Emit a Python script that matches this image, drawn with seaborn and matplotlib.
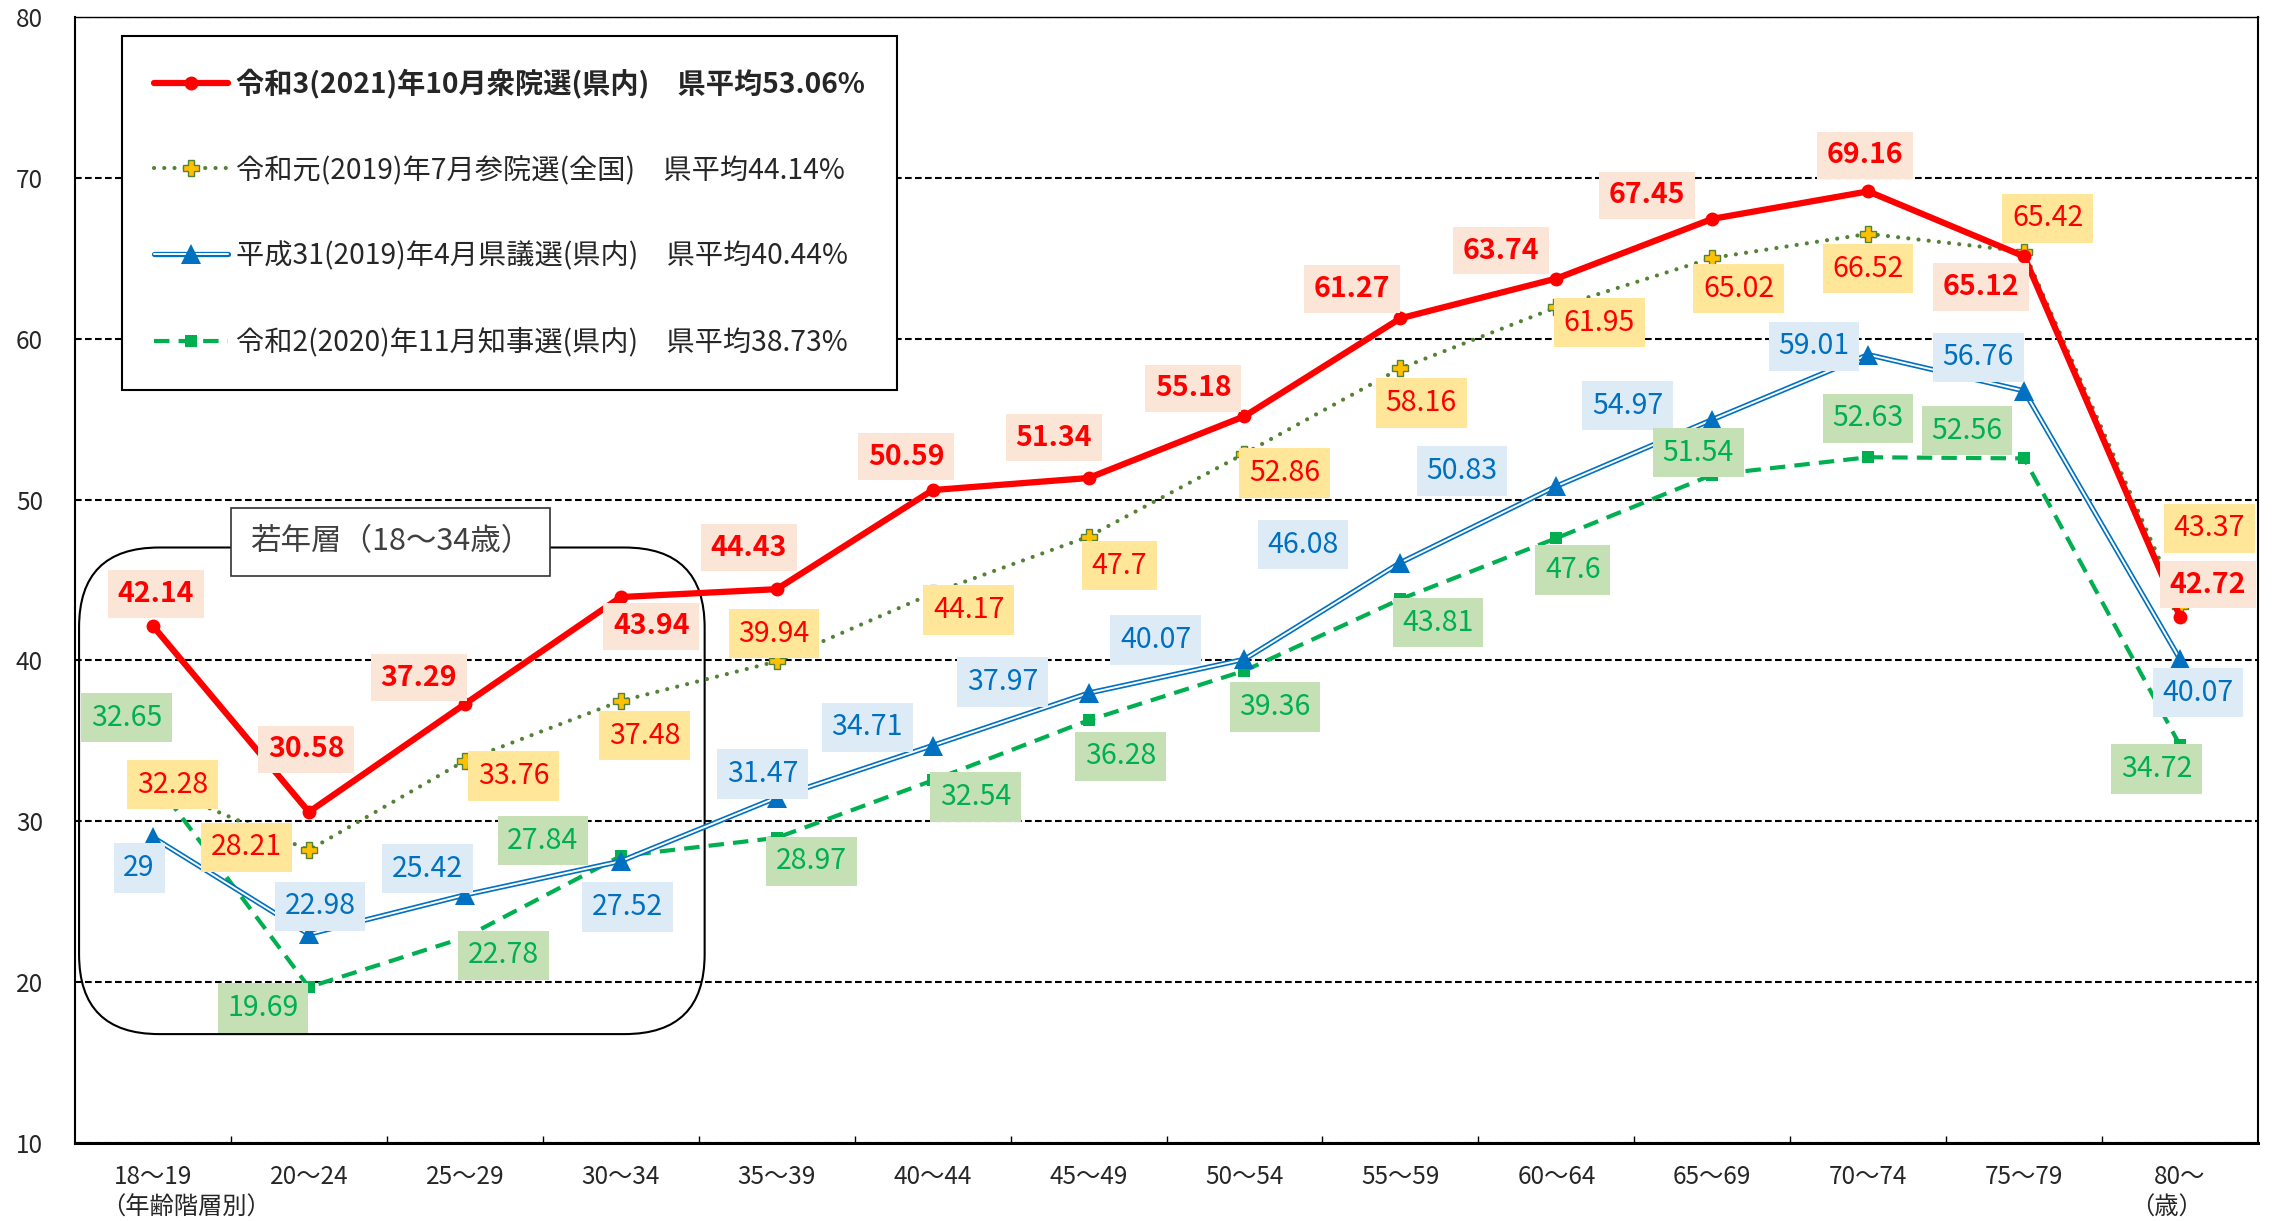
import numpy as np
import pandas as pd
import matplotlib
matplotlib.use("Agg")
import matplotlib.pyplot as plt
import matplotlib.transforms as mtransforms
import seaborn as sns
from matplotlib.lines import Line2D
from matplotlib.patches import FancyBboxPatch
from matplotlib.legend_handler import HandlerTuple

# ---------------- data ----------------
ages = ["18～19", "20～24", "25～29", "30～34", "35～39", "40～44", "45～49",
        "50～54", "55～59", "60～64", "65～69", "70～74", "75～79", "80～"]
shugiin_2021 = [42.14, 30.58, 37.29, 43.94, 44.43, 50.59, 51.34, 55.18, 61.27, 63.74, 67.45, 69.16, 65.12, 42.72]
sangiin_2019 = [32.28, 28.21, 33.76, 37.48, 39.94, 44.17, 47.7, 52.86, 58.16, 61.95, 65.02, 66.52, 65.42, 43.37]
kengi_2019 = [29, 22.98, 25.42, 27.52, 31.47, 34.71, 37.97, 40.07, 46.08, 50.83, 54.97, 59.01, 56.76, 40.07]
chiji_2020 = [32.65, 19.69, 22.78, 27.84, 28.97, 32.54, 36.28, 39.36, 43.81, 47.6, 51.54, 52.63, 52.56, 34.72]
series_labels = [
    "令和3(2021)年10月衆院選(県内)　県平均53.06%",
    "令和元(2019)年7月参院選(全国)　県平均44.14%",
    "平成31(2019)年4月県議選(県内)　県平均40.44%",
    "令和2(2020)年11月知事選(県内)　県平均38.73%",
]
yticks = [10, 20, 30, 40, 50, 60, 70, 80]

# ---------------- label offsets (points) ----------------
off_red = [(2, 23), (-2, 45), (-33, 19), (22, -21), (-20, 30), (-19, 24), (-25, 29),
           (-37, 20), (-35, 21), (-40, 20), (-47, 17), (-2, 26), (-31, -22), (20, 23)]
off_yel = [(14, 0), (-45, 2), (35, -11), (17, -25), (-2, 20), (26, -12), (22, -21),
           (29, -14), (15, -25), (31, -11), (19, -22), (0, -25), (17, 24), (21, 56)]
off_blu = [(-10, -22), (8, 20), (-27, 19), (5, -33), (-10, 17), (-47, 13), (-62, 8),
           (-64, 14), (-70, 13), (-68, 11), (-61, 10), (-39, 6), (-33, 24), (13, -24)]
off_grn = [(-19, 44), (-33, -15), (28, -13), (-56, 11), (25, -17), (31, -12), (23, -26),
           (22, -26), (27, -17), (12, -23), (-10, 16), (0, 28), (-41, 20), (-17, -17)]

RED = "#FF0000"
OLIVE = "#548235"
YELLOW = "#FFC000"
BLUE = "#0070C0"
GREEN = "#00B050"

sns.set_style("white")
plt.rcParams["font.family"] = ["Noto Sans CJK JP", "DejaVu Sans"]

df = pd.DataFrame({
    "pos": np.arange(len(ages)),
    "age": ages,
    "shugiin": shugiin_2021,
    "sangiin": sangiin_2019,
    "kengi": kengi_2019,
    "chiji": chiji_2020,
})

W, H = 2275, 1221
fig = plt.figure(figsize=(W / 100, H / 100), dpi=100)
L, R, T, B = 75, 2258, 17, 1143
ax = fig.add_axes([L / W, 1 - B / H, (R - L) / W, (B - T) / H])

# green dashed (知事選)
sns.lineplot(data=df, x="pos", y="chiji", ax=ax, color=GREEN, linewidth=3.0,
             linestyle=(0, (3.7, 2.2)), marker="s", markersize=8,
             markeredgecolor=GREEN, markeredgewidth=0, legend=False, zorder=2.0)
# blue double line (県議選)
sns.lineplot(data=df, x="pos", y="kengi", ax=ax, color=BLUE, linewidth=3.8,
             legend=False, zorder=2.1)
sns.lineplot(data=df, x="pos", y="kengi", ax=ax, color="white", linewidth=1.4,
             legend=False, zorder=2.2)
sns.lineplot(data=df, x="pos", y="kengi", ax=ax, color=BLUE, linestyle="none",
             marker="^", markersize=14, markeredgecolor=BLUE, markeredgewidth=0,
             legend=False, zorder=2.3)
# dotted (参院選)
sns.lineplot(data=df, x="pos", y="sangiin", ax=ax, color=OLIVE, linewidth=3.0,
             linestyle=(0, (0.01, 2.45)), dash_capstyle="round",
             marker="P", markersize=11, markerfacecolor=YELLOW,
             markeredgecolor=OLIVE, markeredgewidth=1.0, legend=False, zorder=2.4)
# red solid (衆院選)
sns.lineplot(data=df, x="pos", y="shugiin", ax=ax, color=RED, linewidth=4.5,
             marker="o", markersize=10, markeredgecolor=RED, markeredgewidth=0,
             legend=False, zorder=2.5)

# data labels
specs = [
    (df["shugiin"], off_red, RED, "#FBE5D6", "bold"),
    (df["sangiin"], off_yel, RED, "#FFE699", "normal"),
    (df["kengi"], off_blu, BLUE, "#DDEBF7", "normal"),
    (df["chiji"], off_grn, GREEN, "#C5E0B4", "normal"),
]
for vals, offs, tc, bg, fw in specs:
    for i, (v, (dx, dy)) in enumerate(zip(vals, offs)):
        ax.annotate(f"{v:g}", xy=(i, v), xytext=(dx, dy), textcoords="offset points",
                    ha="center", va="center", fontsize=20.5, color=tc, fontweight=fw,
                    bbox=dict(boxstyle="square,pad=0.34", fc=bg, ec="none"), zorder=10)

# axes styling
ax.set_xlim(-0.5, len(ages) - 0.5)
ax.set_ylim(10, 80)
ax.set_yticks(yticks)
ax.set_yticklabels([str(t) for t in yticks])
ax.set_xticks(np.arange(len(ages)))
ax.set_xticklabels(ages)
ax.set_xticks(np.arange(0.5, len(ages) - 1, 1), minor=True)
ax.tick_params(axis="x", which="major", length=0, pad=15, labelsize=17.5)
ax.tick_params(axis="x", which="minor", direction="in", length=5, width=1, color="black", bottom=True)
ax.tick_params(axis="y", length=0, pad=23, labelsize=17.5)
ax.set_xlabel("")
ax.set_ylabel("")
ax.grid(axis="y", color="black", linestyle=(0, (3.2, 1.6)), linewidth=1.5)
ax.grid(axis="x", visible=False)
for side, lw in [("left", 1.5), ("right", 1.5), ("bottom", 2.2), ("top", 1.0)]:
    ax.spines[side].set_visible(True)
    ax.spines[side].set_color("black")
    ax.spines[side].set_linewidth(lw)

# extra axis texts
btrans = mtransforms.blended_transform_factory(ax.transData, ax.transAxes)
ax.text(-0.33, -0.057, "（年齢階層別）", transform=btrans, ha="left", va="center", fontsize=17.5)
ax.text(12.915, -0.057, "（歳）", transform=btrans, ha="center", va="center", fontsize=17.5)

# rounded box for young group
box = FancyBboxPatch((-0.474, 16.77), 4.012, 30.25,
                     boxstyle="round,pad=0,rounding_size=0.513", mutation_aspect=9.68,
                     transform=ax.transData, fill=False, ec="black", lw=1.5, zorder=1.6)
ax.add_patch(box)
ax.text(1.522, 47.36, "若年層（18～34歳）", ha="center", va="center", fontsize=22,
        color="#404040", zorder=6,
        bbox=dict(boxstyle="square,pad=0.62", fc="white", ec="#333333", lw=1.2))

# legend
h_red = Line2D([], [], color=RED, lw=4.5, marker="o", ms=10, mec=RED, mew=0)
h_yel = Line2D([], [], color=OLIVE, lw=3.0, ls=(0, (0.01, 2.45)), dash_capstyle="round",
               marker="P", ms=11, mfc=YELLOW, mec=OLIVE, mew=1.0)
h_blu = (Line2D([], [], color=BLUE, lw=3.8),
         Line2D([], [], color="white", lw=1.4),
         Line2D([], [], color=BLUE, ls="none", marker="^", ms=14, mew=0))
h_grn = Line2D([], [], color=GREEN, lw=3.0, ls=(0, (3.7, 2.2)), marker="s", ms=8, mew=0)
leg = ax.legend([h_red, h_yel, h_blu, h_grn], series_labels, loc="upper left",
                bbox_to_anchor=(0.0215, 0.983), borderaxespad=0, fontsize=20.3,
                frameon=True, fancybox=False, edgecolor="black", framealpha=1,
                handlelength=2.6, handletextpad=0.3, labelspacing=2.0, borderpad=1.15,
                handler_map={tuple: HandlerTuple(ndivide=1)})
leg.get_frame().set_linewidth(1.5)
leg.set_zorder(20)
leg.get_texts()[0].set_fontweight("bold")

fig.savefig("out.png", dpi=100)
